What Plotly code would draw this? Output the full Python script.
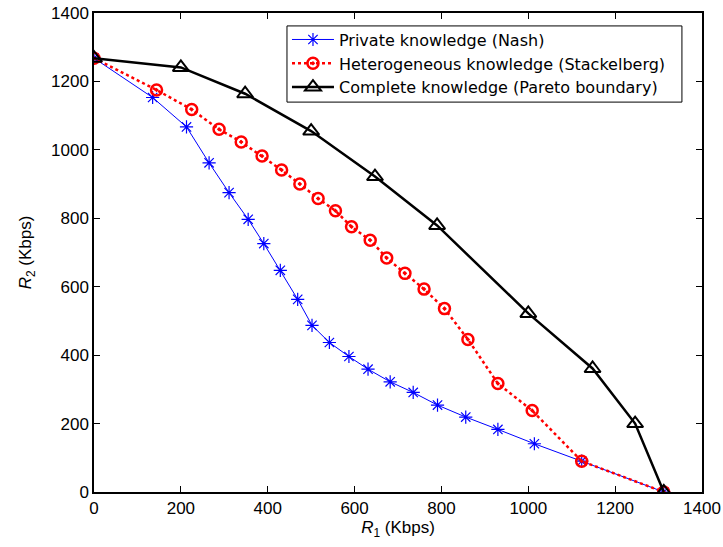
import plotly.graph_objects as go

# Rate pairs (Kbps)
nash_r1 = [0, 135, 213, 265, 311, 355, 391, 429, 469, 502, 542, 587, 631, 682, 735, 791, 856, 930, 1014, 1123, 1312]
nash_r2 = [1268, 1153, 1067, 962, 875, 797, 726, 648, 563, 487, 437, 396, 359, 322, 291, 254, 219, 183, 141, 90, 0]

stack_r1 = [0, 144, 225, 288, 339, 387, 432, 474, 516, 556, 593, 636, 674, 716, 760, 807, 861, 930, 1009, 1123, 1312]
stack_r2 = [1268, 1175, 1118, 1060, 1023, 982, 941, 900, 858, 822, 775, 736, 684, 639, 593, 536, 446, 317, 238, 90, 0]

pareto_r1 = [0, 200, 348, 500, 647, 790, 1000, 1148, 1246, 1312]
pareto_r2 = [1268, 1241, 1164, 1055, 922, 779, 522, 361, 200, 0]

tick_vals = [0, 200, 400, 600, 800, 1000, 1200, 1400]

FONT = 'Liberation Sans, Arial, Helvetica, sans-serif'
LEG_FONT = 'DejaVu Sans, Liberation Sans, sans-serif'

fig = go.Figure()

fig.add_scatter(
    x=nash_r1, y=nash_r2, mode='lines+markers',
    name='Private knowledge (Nash)',
    line=dict(color='#0000ff', width=1),
    marker=dict(symbol='asterisk-open', size=11, color='#0000ff',
                line=dict(color='#0000ff', width=1.2)),
)

fig.add_scatter(
    x=stack_r1, y=stack_r2, mode='lines+markers',
    name='Heterogeneous knowledge (Stackelberg)',
    line=dict(color='#ff0000', width=2.5, dash='dot'),
    marker=dict(symbol='circle-open-dot', size=11, color='#ff0000',
                line=dict(color='#ff0000', width=2.5)),
)

fig.add_scatter(
    x=pareto_r1, y=pareto_r2, mode='lines+markers',
    name='Complete knowledge (Pareto boundary)',
    line=dict(color='#000000', width=2.5),
    marker=dict(symbol='triangle-up-open', size=14, color='#000000',
                line=dict(color='#000000', width=2)),
)

axis_style = dict(
    range=[0, 1400], tickvals=tick_vals, showgrid=False, zeroline=False,
    showline=True, linecolor='black', linewidth=1.5, mirror='ticks',
    ticks='inside', ticklen=6, tickwidth=1, tickcolor='black',
    tickfont=dict(family=FONT, size=17, color='black'),
    ticklabeloverflow='allow', automargin=False,
)

# legend frame (MATLAB-style padding) drawn behind the transparent legend
fig.add_shape(type='rect', xref='paper', yref='paper',
              x0=0.3174, x1=0.967, y0=0.814, y1=0.973,
              fillcolor='white', line=dict(color='black', width=1), layer='above')

fig.update_layout(
    width=723, height=547,
    paper_bgcolor='white', plot_bgcolor='white',
    margin=dict(l=94, r=21, t=13, b=55),
    font=dict(family=FONT, size=17, color='black'),
    xaxis=dict(**axis_style,
               title=dict(text='<i>R</i><sub>1</sub> (Kbps)', standoff=0,
                          font=dict(family=FONT, size=17, color='black'))),
    yaxis=dict(**axis_style,
               title=dict(text='<i>R</i><sub>2</sub> (Kbps)',
                          font=dict(family=FONT, size=17, color='black'))),
    showlegend=True,
    legend=dict(
        x=0.3174, y=0.980, xanchor='left', yanchor='top',
        bgcolor='rgba(0,0,0,0)', borderwidth=0,
        font=dict(family=LEG_FONT, size=16, color='black'),
        itemwidth=42, tracegroupgap=0,
    ),
)

# drop the default 8px body margin so the figure fills the window exactly
fig.write_html("out.html", config={'displayModeBar': False},
               post_script="document.body.style.margin='0';")
